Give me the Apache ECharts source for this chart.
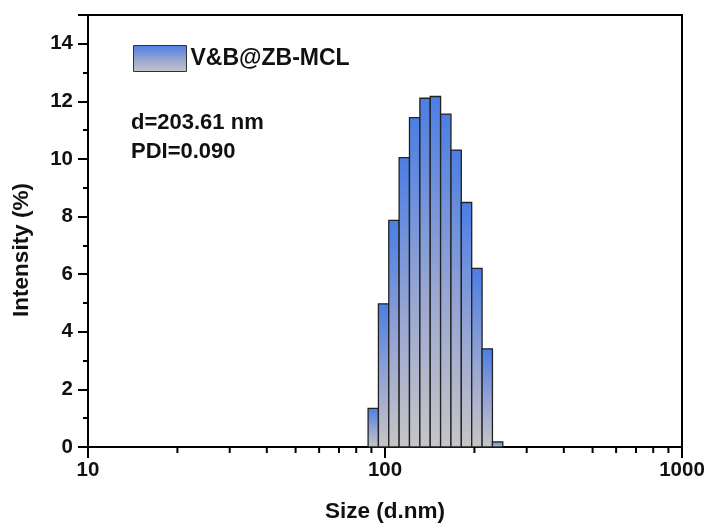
<!DOCTYPE html>
<html>
<head>
<meta charset="utf-8">
<script src="https://cdn.jsdelivr.net/npm/echarts@6/dist/echarts.min.js"></script>
<style>
html,body{margin:0;padding:0;background:#fff;}
#chart{width:710px;height:528px;}
</style>
</head>
<body>
<div id="chart"></div>
<script>
// Bin centre sizes (d.nm) and intensities (%)
var sizes = [91.3, 98.9, 107.2, 116.1, 125.9, 136.4, 147.8, 160.2, 173.6, 188.1, 203.9, 221.0, 239.4];
var intensity = [1.34, 4.97, 7.87, 10.05, 11.44, 12.11, 12.17, 11.56, 10.31, 8.49, 6.20, 3.41, 0.18];
var minorXTicks = [20, 30, 40, 50, 60, 70, 80, 90, 200, 300, 400, 500, 600, 700, 800, 900];
var seriesName = 'V&B@ZB-MCL';
var notes = ['d=203.61 nm', 'PDI=0.090'];

var FONT = '"Liberation Sans", Arial, sans-serif';

function barGradient() {
  return new echarts.graphic.LinearGradient(0, 0, 0, 1, [
    {offset: 0, color: '#4b7ee4'},
    {offset: 0.55, color: '#98a6d2'},
    {offset: 1, color: '#c6c6c6'}
  ]);
}

var barData = sizes.map(function (s, i) { return [s, intensity[i], i]; });

var chart = echarts.init(document.getElementById('chart'));
chart.setOption({
  animation: false,
  backgroundColor: '#fff',
  grid: {left: 88, right: 28, top: 15, bottom: 79, show: true, borderColor: '#000', borderWidth: 2, backgroundColor: 'transparent'},
  legend: {
    left: 133, top: 45, padding: 0,
    itemWidth: 53, itemHeight: 26, itemGap: 6,
    icon: 'rect',
    data: [{name: seriesName, itemStyle: {color: barGradient(), borderColor: '#333', borderWidth: 1}}],
    textStyle: {fontFamily: FONT, fontWeight: 'bold', fontSize: 23, color: '#111', padding: [0, 0, 0, -1]}
  },
  graphic: [{
    type: 'text', left: 131, top: 108,
    style: {text: notes.join('\n'), fontFamily: FONT, fontWeight: 'bold', fontSize: 22, lineHeight: 29, fill: '#111'}
  }],
  xAxis: {
    type: 'log', logBase: 10, min: 10, max: 1000,
    name: 'Size (d.nm)', nameLocation: 'middle', nameGap: 53,
    nameTextStyle: {fontFamily: FONT, fontWeight: 'bold', fontSize: 22.5, color: '#111'},
    axisLine: {lineStyle: {color: '#000', width: 2}},
    axisTick: {inside: false, length: 11, lineStyle: {color: '#000', width: 2}},
    axisLabel: {fontFamily: FONT, fontWeight: 'bold', fontSize: 20.5, color: '#111', margin: 13,
      formatter: function (v) { return String(Math.round(v)); }},
    splitLine: {show: false}
  },
  yAxis: {
    type: 'value', min: 0, max: 15, interval: 2,
    name: 'Intensity (%)', nameLocation: 'middle', nameGap: 55,
    nameTextStyle: {fontFamily: FONT, fontWeight: 'bold', fontSize: 22.5, color: '#111', padding: [0, 38, 0, 0]},
    axisLine: {lineStyle: {color: '#000', width: 2}},
    axisTick: {inside: false, length: 10, lineStyle: {color: '#000', width: 2}},
    minorTick: {show: true, splitNumber: 2, length: 5, lineStyle: {color: '#000', width: 2}},
    axisLabel: {fontFamily: FONT, fontWeight: 'bold', fontSize: 20.5, color: '#111', margin: 15,
      formatter: function (v) { return v > 14 ? '' : String(v); }},
    splitLine: {show: false}
  },
  series: [{
    name: seriesName,
    type: 'custom',
    data: barData,
    encode: {x: 0, y: 1},
    itemStyle: {color: barGradient(), borderColor: '#333'},
    renderItem: function (params, api) {
      var i = api.value(2);
      var c = sizes[i];
      var prev = i > 0 ? sizes[i - 1] : c * c / sizes[i + 1];
      var next = i < sizes.length - 1 ? sizes[i + 1] : c * c / sizes[i - 1];
      var lo = Math.sqrt(prev * c), hi = Math.sqrt(c * next);
      var p0 = api.coord([lo, api.value(1)]);
      var p1 = api.coord([hi, 0]);
      return {
        type: 'rect',
        shape: {x: p0[0], y: p0[1], width: p1[0] - p0[0], height: p1[1] - p0[1]},
        style: {fill: barGradient(), stroke: '#222', lineWidth: 1.3}
      };
    }
  }, {
    type: 'custom',
    silent: true,
    data: minorXTicks.map(function (v) { return [v, 0]; }),
    encode: {x: 0, y: 1},
    z: 5,
    renderItem: function (params, api) {
      var p = api.coord([api.value(0), 0]);
      return {
        type: 'line',
        shape: {x1: p[0], y1: p[1], x2: p[0], y2: p[1] + 6},
        style: {stroke: '#000', lineWidth: 2}
      };
    }
  }]
});
</script>
</body>
</html>
